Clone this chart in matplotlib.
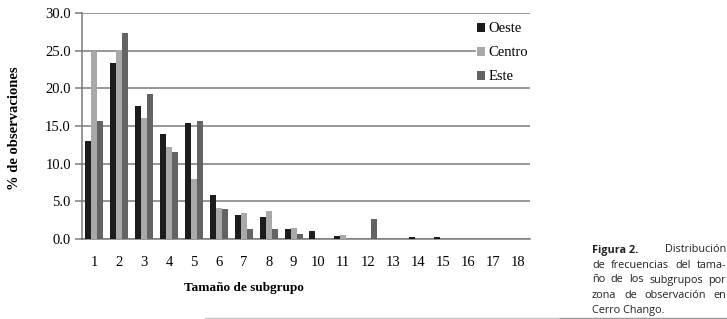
import numpy as np
import matplotlib
matplotlib.use('Agg')
import matplotlib.pyplot as plt

categorias = [str(i) for i in range(1, 19)]
oeste = [13.0, 23.3, 17.6, 14.0, 15.4, 5.9, 3.2, 2.9, 1.3, 1.0, 0.4, 0.0, 0.0, 0.3, 0.3, 0.0, 0.0, 0.0]
centro = [25.0, 25.1, 16.0, 12.2, 8.0, 4.1, 3.5, 3.7, 1.4, 0.0, 0.5, 0.0, 0.0, 0.0, 0.0, 0.0, 0.0, 0.0]
este = [15.7, 27.4, 19.2, 11.6, 15.7, 4.0, 1.3, 1.3, 0.6, 0.0, 0.0, 2.6, 0.0, 0.0, 0.0, 0.0, 0.0, 0.0]
series = [('Oeste', oeste, '#1c1c1c'), ('Centro', centro, '#a9a9a9'), ('Este', este, '#636363')]

caption = [
    [('Figura 2.', 'bold'), ('Distribución', 'normal')],
    [('de', 'normal'), ('frecuencias', 'normal'), ('del', 'normal'), ('tama-', 'normal')],
    [('ño', 'normal'), ('de', 'normal'), ('los', 'normal'), ('subgrupos', 'normal'), ('por', 'normal')],
    [('zona', 'normal'), ('de', 'normal'), ('observación', 'normal'), ('en', 'normal')],
    [('Cerro Chango.', 'normal')],
]

W, H = 727, 319
fig = plt.figure(figsize=(W / 100, H / 100), dpi=100)
ax = fig.add_axes([82 / W, 1 - 239 / H, (530 - 82) / W, (239 - 13) / H])

serif = 'Liberation Serif'
x = np.arange(len(categorias))
w = 0.24
for i, (nombre, vals, col) in enumerate(series):
    ax.bar(x + (i - 1) * w, vals, w, color=col, label=nombre, zorder=3)

ax.set_xlim(-0.5, len(categorias) - 0.5)
ax.set_ylim(0, 30)
ax.set_yticks(np.arange(0, 31, 5))
ax.set_yticklabels([f'{v:.1f}' for v in np.arange(0, 31, 5)], fontfamily=serif, fontsize=10.5)
ax.set_xticks(x)
ax.set_xticklabels(categorias, fontfamily=serif, fontsize=10.5)
ax.tick_params(axis='x', length=0, pad=12)
ax.tick_params(axis='y', length=5, width=1.1, color='#7a7a7a', pad=3)
ax.yaxis.grid(True, color='#7a7a7a', linewidth=1.1, zorder=0)
for s in ['top', 'right']:
    ax.spines[s].set_visible(False)
for s in ['left', 'bottom']:
    ax.spines[s].set_color('#7a7a7a')
    ax.spines[s].set_linewidth(1.1)

leg = ax.legend(loc='upper right', bbox_to_anchor=(1.016, 0.997), frameon=True, framealpha=1,
                edgecolor='white', fancybox=False, handlelength=0.55, handleheight=0.55,
                handletextpad=0.25, labelspacing=0.75, borderpad=0.1,
                prop={'family': serif, 'size': 10.5})
leg.set_zorder(5)

fig.text(15 / W, 1 - 128 / H, '% de observaciones', rotation=90, ha='center', va='center',
         fontfamily=serif, fontweight='bold', fontsize=10.5)
fig.text(244 / W, 1 - 288 / H, 'Tamaño de subgrupo', ha='center', va='center',
         fontfamily=serif, fontweight='bold', fontsize=9.5)

# pie de figura justificado
x0, x1 = 592, 726
ys = [250, 265, 280, 295, 310]
lineas = []
for linea, yy in zip(caption, ys):
    lineas.append([fig.text(x0 / W, 1 - yy / H, t, ha='left', va='center', fontfamily='Open Sans',
                            fontweight=fw, fontsize=7.8, color='#222222') for t, fw in linea])
fig.canvas.draw()
r = fig.canvas.get_renderer()
for k, textos in enumerate(lineas):
    anchos = [t.get_window_extent(r).width for t in textos]
    if k == len(lineas) - 1 or len(textos) == 1:
        gap = 0
    else:
        gap = (x1 - x0 - sum(anchos)) / (len(textos) - 1)
    pos = x0
    for t, a in zip(textos, anchos):
        t.set_x(pos / W)
        pos += a + gap

fig.add_artist(plt.Line2D([205 / W, 560 / W], [1 - 317.5 / H] * 2, color='#c4c4c4', linewidth=1))
fig.add_artist(plt.Line2D([560 / W, 1], [1 - 317.5 / H] * 2, color='#999999', linewidth=1))

fig.savefig('out.png', dpi=100)
